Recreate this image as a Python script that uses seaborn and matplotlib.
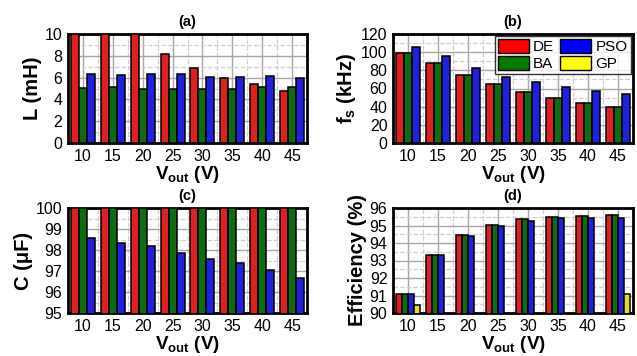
import numpy as np
import pandas as pd
import matplotlib
matplotlib.use("Agg")
import matplotlib.pyplot as plt
from matplotlib.ticker import FixedLocator, MultipleLocator
from matplotlib.patches import Patch
import seaborn as sns

vout = ["10", "15", "20", "25", "30", "35", "40", "45"]
algs = ["DE", "BA", "PSO", "GP"]
colors = {"DE": "#FF0000", "BA": "#007A00", "PSO": "#0000FF", "GP": "#FFFF00"}

L_DE = [10, 10, 10, 8.15, 6.86, 6.0, 5.38, 4.8]
L_BA = [5.02, 5.1, 4.92, 5.0, 4.92, 5.0, 5.17, 5.17]
L_PSO = [6.3, 6.2, 6.37, 6.3, 6.1, 6.1, 6.15, 6.0]

F_DE = [99, 88.6, 74.6, 64.6, 56.5, 49.5, 44, 39.5]
F_BA = [99, 88.6, 74.6, 64.6, 56.5, 49.5, 44, 39.5]
F_PSO = [105.6, 96, 83, 72.7, 67.2, 62, 57.6, 54.3]

C_DE = [100, 100, 100, 100, 100, 100, 100, 100]
C_BA = [100, 100, 100, 100, 100, 100, 100, 100]
C_PSO = [98.56, 98.33, 98.17, 97.84, 97.59, 97.37, 97.05, 96.66]

E_DE = [91.1, 93.31, 94.45, 95.05, 95.39, 95.5, 95.56, 95.62]
E_BA = [91.1, 93.31, 94.45, 95.05, 95.39, 95.5, 95.56, 95.62]
E_PSO = [91.1, 93.31, 94.39, 94.98, 95.28, 95.41, 95.45, 95.45]
E_GP = [90.47, np.nan, np.nan, np.nan, np.nan, np.nan, np.nan, 91.1]

sns.set_theme(style="white")
plt.rcParams["font.family"] = ["Liberation Sans", "DejaVu Sans"]
plt.rcParams["mathtext.fontset"] = "custom"
plt.rcParams["mathtext.rm"] = "Liberation Sans"
plt.rcParams["mathtext.bf"] = "Liberation Sans:bold"
plt.rcParams["mathtext.it"] = "Liberation Sans:italic"
plt.rcParams["text.color"] = "black"
plt.rcParams["axes.labelcolor"] = "black"


def long_df(series):
    rows = []
    for name, vals in series.items():
        for v, y in zip(vout, vals):
            rows.append({"Vout": v, "alg": name, "val": y})
    return pd.DataFrame(rows)


fig = plt.figure(figsize=(6.37, 3.56), dpi=100)
W, H = 637, 356


def make_ax(l, t, r, b):
    return fig.add_axes([l / W, 1 - b / H, (r - l) / W, (b - t) / H])


axA = make_ax(68, 34, 307, 143)
axB = make_ax(393, 34, 633, 143)
axC = make_ax(68, 208, 307, 313)
axD = make_ax(393, 208, 633, 313)

xlabel = r"$\mathbf{V_{out}}$ $\mathbf{(V)}$"

panels = [
    (axA, {"DE": L_DE, "BA": L_BA, "PSO": L_PSO}, ["DE", "BA", "PSO"], (0, 10), 2, "L (mH)", "(a)"),
    (axB, {"DE": F_DE, "BA": F_BA, "PSO": F_PSO}, ["DE", "BA", "PSO"], (0, 120), 20, r"$\mathbf{f_s}$ $\mathbf{(kHz)}$", "(b)"),
    (axC, {"DE": C_DE, "BA": C_BA, "PSO": C_PSO}, ["DE", "BA", "PSO"], (95, 100), 1, "C (μF)", "(c)"),
    (axD, {"DE": E_DE, "BA": E_BA, "PSO": E_PSO, "GP": E_GP}, algs, (90, 96), 1, "Efficiency (%)", "(d)"),
]

for ax, series, order, ylim, step, ylab, title in panels:
    df = long_df(series)
    sns.barplot(data=df, x="Vout", y="val", hue="alg", hue_order=order,
                palette=colors, order=vout, edgecolor="black", linewidth=1.1,
                errorbar=None, legend=False, ax=ax, width=0.8, zorder=3)
    ax.set_ylim(*ylim)
    ax.set_xlim(-0.5, 7.5)
    ax.yaxis.set_major_locator(MultipleLocator(step))
    ax.yaxis.set_minor_locator(MultipleLocator(step / 2))
    ax.xaxis.set_minor_locator(FixedLocator(np.arange(-0.5, 8, 1.0)))
    ax.grid(which="major", color="#A8A8A8", linestyle="-", linewidth=1.0, zorder=0)
    ax.grid(which="minor", color="#D0D0D0", linestyle="--", linewidth=0.9, zorder=0)
    ax.set_axisbelow(True)
    for s in ax.spines.values():
        s.set_linewidth(2.0)
        s.set_color("black")
        s.set_visible(True)
    ax.tick_params(which="both", length=0, labelsize=11.5, colors="black",
                   labelcolor="black", pad=4)
    ax.set_xlabel(xlabel, fontsize=13.5, fontweight="bold", labelpad=0, color="black")
    ax.set_ylabel(ylab, fontsize=14.5, fontweight="bold", labelpad=2, color="black")
    ax.set_title(title, fontsize=10.5, fontweight="bold", pad=6, color="black")

handles = [Patch(facecolor=colors[a], edgecolor="black", linewidth=1.0, label=a) for a in algs]
leg = axB.legend(handles=handles, ncol=2, loc="upper right", fontsize=11,
                 frameon=True, fancybox=False, edgecolor="black",
                 handlelength=2.0, handleheight=0.95, columnspacing=0.4,
                 handletextpad=0.3, labelspacing=0.15, borderpad=0.2,
                 borderaxespad=0.15)
leg.get_frame().set_linewidth(1.0)
for t in leg.get_texts():
    t.set_color("black")

fig.savefig("out.png", dpi=100, facecolor="white")
